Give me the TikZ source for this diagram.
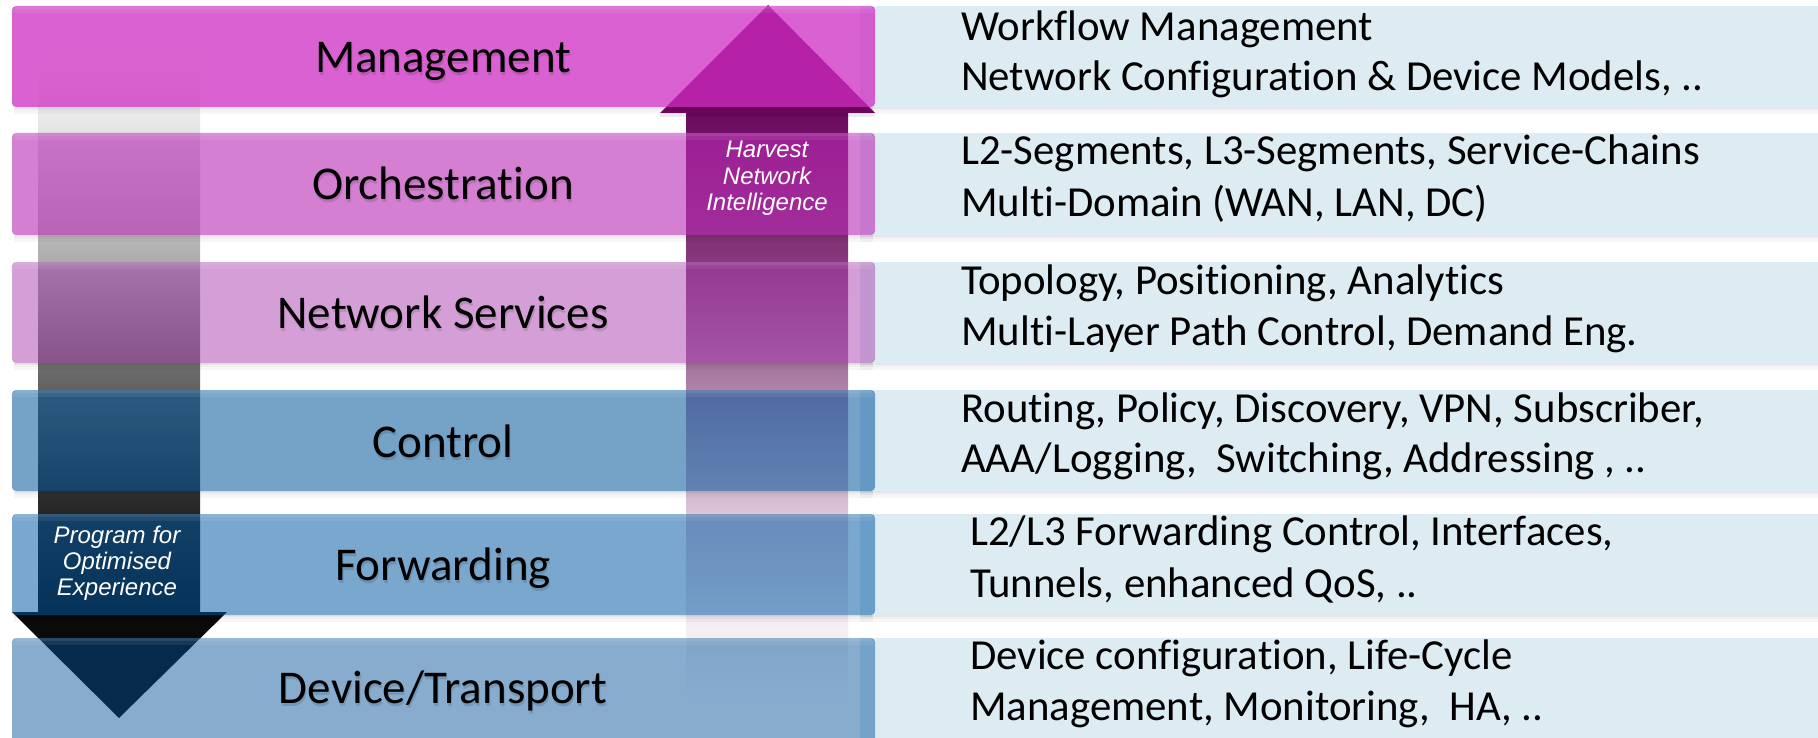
\documentclass[tikz,border=0pt]{standalone}
\usepackage{fontspec}
\setmainfont[Ligatures=NoCommon]{Carlito}
\newfontfamily\arrowfont{Liberation Sans}

% layer fills (drawn translucent over the two arrows)
\definecolor{mgmt}{RGB}{205,43,193}
\definecolor{orch}{RGB}{185,42,180}
\definecolor{nsvc}{RGB}{164,53,172}
\definecolor{ctrl}{RGB}{0,85,155}
\definecolor{fwd}{RGB}{0,88,161}
\definecolor{devt}{RGB}{0,80,152}
\definecolor{panel}{RGB}{221,235,243}
% greys of the downward arrow
\definecolor{ls0}{RGB}{255,255,255}
\definecolor{ls1}{RGB}{247,247,247}
\definecolor{ls2}{RGB}{232,232,232}
\definecolor{ls3}{RGB}{179,179,179}
\definecolor{ls4}{RGB}{104,104,104}
\definecolor{ls5}{RGB}{42,42,42}
\definecolor{ls6}{RGB}{10,10,10}
% purples of the upward arrow
\definecolor{rs0}{RGB}{105,5,93}
\definecolor{rs1}{RGB}{110,14,98}
\definecolor{rs2}{RGB}{132,53,121}
\definecolor{rs3}{RGB}{171,124,164}
\definecolor{rs4}{RGB}{217,192,214}
\definecolor{rs5}{RGB}{244,237,242}
\definecolor{rs6}{RGB}{255,255,255}
\definecolor{headup}{RGB}{115,6,96}

\pgfdeclareverticalshading{downshaft}{100bp}{color(0bp)=(ls6); color(25bp)=(ls6); color(34.5bp)=(ls5); color(45.6bp)=(ls4); color(56.8bp)=(ls3); color(68bp)=(ls2); color(71.5bp)=(ls1); color(75bp)=(ls0); color(100bp)=(ls0)}
\pgfdeclareverticalshading{upshaft}{100bp}{color(0bp)=(rs6); color(25bp)=(rs6); color(31.5bp)=(rs5); color(41.6bp)=(rs4); color(52bp)=(rs3); color(62.5bp)=(rs2); color(73bp)=(rs1); color(75bp)=(rs0); color(100bp)=(rs0)}

\tikzset{
  layerbar/.style={rounded corners=4pt, fill opacity=#1},
  layertext/.style={anchor=base, inner sep=0pt, font=\fontsize{47}{56}\selectfont},
  layershade/.style={anchor=base, inner sep=0pt, font=\fontsize{47}{56}\selectfont, text=black, text opacity=0.12},
  detail/.style={anchor=base west, inner sep=0pt, font=\fontsize{42.8}{50}\selectfont},
  arrowtext/.style={anchor=base, inner sep=0pt, text=white, font=\arrowfont\itshape\fontsize{24}{27}\selectfont},
}

% soft shadow strip under a bar: #1 bottom edge, #2 left, #3 right
\newcommand\barshadow[3]{%
  \fill[black, opacity=0.10] (#2,#1) rectangle (#3,#1+2);
  \fill[black, opacity=0.06] (#2,#1+2) rectangle (#3,#1+4);
  \fill[black, opacity=0.03] (#2,#1+4) rectangle (#3,#1+7);
}
% faint highlight along the top edge of a bar: #1 top edge
\newcommand\bargloss[1]{%
  \fill[white, opacity=0.14] (15,#1) rectangle (872,#1+3);
  \fill[white, opacity=0.07] (13,#1+3) rectangle (874,#1+7);
}

\begin{document}
\begin{tikzpicture}[x=1pt, y=-1pt]
\useasboundingbox (0,0) rectangle (1818,738);
\fill[white] (0,0) rectangle (1818,738);

% light detail panels on the right
\foreach \t/\b in {6/107, 133/235, 262/363, 390/491, 514/615, 638/750}{
  \fill[panel] (860,\t) rectangle (1830,\b);
  \barshadow{\b}{860}{1830}
}

% downward arrow: program for optimised experience
\shade[shading=downshaft] (38,40) rectangle (200,612);
\fill[ls6] (12,612) -- (227,612) -- (119,718) -- cycle;

% upward arrow: harvest network intelligence
\shade[shading=upshaft] (686,100) rectangle (848,705);
\fill[headup] (660,113) -- (768,5) -- (875,113) -- cycle;
\fill[black, opacity=0.08] (660,113) rectangle (875,117);

% shadows under the layer bars
\foreach \b in {107, 235, 363, 491, 615}{
  \barshadow{\b}{14}{873}
}

% the six layers
\fill[mgmt, layerbar=0.74] (12,6)   rectangle (875,107);
\fill[orch, layerbar=0.60] (12,133) rectangle (875,235);
\fill[nsvc, layerbar=0.47] (12,262) rectangle (875,363);
\fill[ctrl, layerbar=0.54] (12,390) rectangle (875,491);
\fill[fwd,  layerbar=0.52] (12,514) rectangle (875,615);
\fill[devt, layerbar=0.47] (12,638) rectangle (875,760);
\foreach \t in {6, 133, 262, 390, 514, 638}{
  \bargloss{\t}
}

% layer names, with a faint drop shadow
\foreach \y/\name/\txt in {73/mg/{Management}, 200/or/{Orchestration}, 328/ns/{Network Services},
                            457/ct/{Control}, 580/fw/{Forwarding}, 703/dv/{Device/Transport}}{
  \node[layershade] (\name-s) at (444,\y+3) {\txt};
  \node[layertext]  (\name)   at (443,\y)   {\txt};
}

% arrow captions
\node[arrowtext] (h1) at (767,158) {Harvest};
\node[arrowtext] (h2) at (767,185) {Network};
\node[arrowtext] (h3) at (767,211) {Intelligence};
\node[arrowtext] (p1) at (117,543) {Program for};
\node[arrowtext] (p2) at (117,569) {Optimised};
\node[arrowtext] (p3) at (117,595) {Experience};

% details of each layer
\node[detail] (d1a) at (961,41)  {Workflow Management};
\node[detail] (d1b) at (961,91)  {Network Configuration \& Device Models, ..};
\node[detail] (d2a) at (961,165) {L2-Segments, L3-Segments, Service-Chains};
\node[detail] (d2b) at (961,217) {Multi-Domain (WAN, LAN, DC)};
\node[detail] (d3a) at (961,294) {Topology, Positioning, Analytics};
\node[detail] (d3b) at (961,345) {Multi-Layer Path Control, Demand Eng.};
\node[detail] (d4a) at (961,422) {Routing, Policy, Discovery, VPN, Subscriber,};
\node[detail] (d4b) at (961,472) {AAA/Logging,\ \ Switching, Addressing , ..};
\node[detail] (d5a) at (970,545) {L2/L3 Forwarding Control, Interfaces,};
\node[detail] (d5b) at (970,597) {Tunnels, enhanced QoS, ..};
\node[detail] (d6a) at (970,669) {Device configuration, Life-Cycle};
\node[detail] (d6b) at (970,720) {Management, Monitoring,\ \ HA, ..};
\end{tikzpicture}
\end{document}
